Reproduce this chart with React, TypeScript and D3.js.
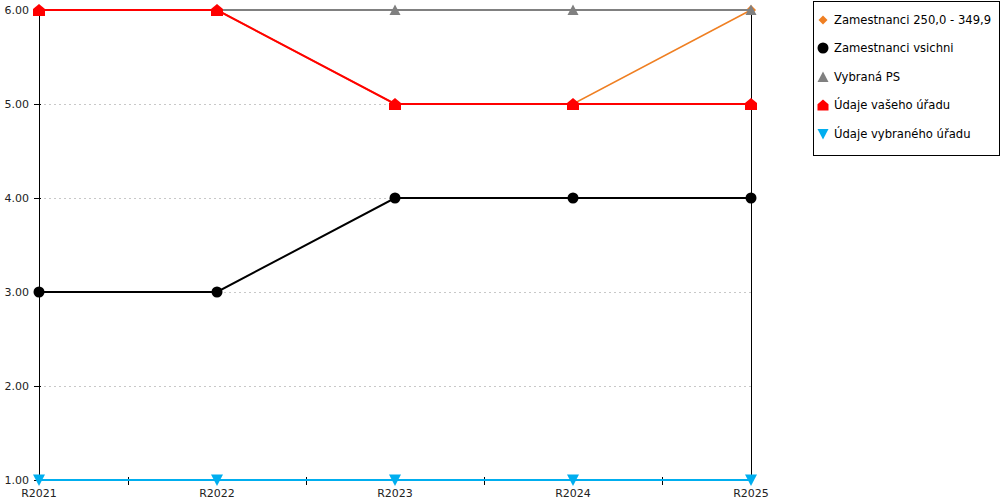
import React from 'react';
import * as d3 from 'd3';

const categories = ['R2021', 'R2022', 'R2023', 'R2024', 'R2025'];
const yTicks = [1, 2, 3, 4, 5, 6];

const zamestnanciRange = [6, 6, 5, 5, 6];
const zamestnanciAll = [3, 3, 4, 4, 4];
const vybranaPS = [6, 6, 6, 6, 6];
const vasUrad = [6, 6, 5, 5, 5];
const vybranyUrad = [1, 1, 1, 1, 1];

const seriesNames = [
  'Zamestnanci 250,0 - 349,9',
  'Zamestnanci vsichni',
  'Vybraná PS',
  'Údaje vašeho úřadu',
  'Údaje vybraného úřadu',
];

const FONT = '"DejaVu Sans", Verdana, sans-serif';

const markerPath = (kind: string, size: number): string => {
  const h = size / 2;
  switch (kind) {
    case 'diamond':
      return `M0,${-h}L${h},0L0,${h}L${-h},0Z`;
    case 'circle':
      return d3.symbol(d3.symbolCircle, Math.PI * h * h)() as string;
    case 'triangle':
      return `M0,${-h}L${h},${h * 0.9}L${-h},${h * 0.9}Z`;
    case 'house':
      return `M0,${-h}L${h},${-h * 0.15}L${h},${h}L${-h},${h}L${-h},${-h * 0.15}Z`;
    case 'down':
      return `M${-h},${-h * 0.9}L${h},${-h * 0.9}L0,${h}Z`;
    default:
      return '';
  }
};

const series = [
  { name: seriesNames[0], values: zamestnanciRange, color: '#ef7f22', width: 1.5, marker: 'diamond', size: 10 },
  { name: seriesNames[1], values: zamestnanciAll, color: '#000000', width: 2, marker: 'circle', size: 11 },
  { name: seriesNames[2], values: vybranaPS, color: '#808080', width: 2, marker: 'triangle', size: 11 },
  { name: seriesNames[3], values: vasUrad, color: '#ff0000', width: 2, marker: 'house', size: 12 },
  { name: seriesNames[4], values: vybranyUrad, color: '#00aeef', width: 2, marker: 'down', size: 12 },
];

export default function App() {
  const width = 1000;
  const height = 500;
  const left = 39;
  const right = 751;
  const top = 10;
  const bottom = 480;

  const x = d3.scalePoint<string>().domain(categories).range([left, right]);
  const y = d3.scaleLinear().domain([1, 6]).range([bottom, top]);
  const step = x.step();

  const line = d3.line<number>()
    .x((_, i) => x(categories[i]) as number)
    .y(d => y(d));

  const legendY = [20, 48, 77, 105, 134];

  return (
    <svg width={width} height={height} style={{ position: 'absolute', left: 0, top: 0, background: '#fff' }}>
      {/* gridlines */}
      {yTicks.filter(t => t > 1 && t < 6).map(t => (
        <line key={'g' + t} x1={left} x2={right} y1={Math.round(y(t)) + 0.5} y2={Math.round(y(t)) + 0.5}
          stroke="#c8c8c8" strokeDasharray="2,3" />
      ))}
      {/* axes */}
      <line x1={left + 0.5} x2={left + 0.5} y1={top} y2={bottom} stroke="#000" />
      <line x1={right + 0.5} x2={right + 0.5} y1={top} y2={bottom} stroke="#000" />
      <line x1={left} x2={right} y1={bottom + 0.5} y2={bottom + 0.5} stroke="#000" />
      {yTicks.map(t => (
        <g key={'y' + t}>
          <line x1={left - 5} x2={left + 2} y1={Math.round(y(t)) + 0.5} y2={Math.round(y(t)) + 0.5} stroke="#000" />
          <text x={left - 10} y={y(t)} dy="0.35em" textAnchor="end" fontFamily={FONT} fontSize={11} fill="#222">
            {d3.format('.2f')(t)}
          </text>
        </g>
      ))}
      {categories.slice(0, -1).map((c, i) => (
        <line key={'xt' + i} x1={Math.round((x(c) as number) + step / 2) + 0.5} x2={Math.round((x(c) as number) + step / 2) + 0.5}
          y1={bottom - 3} y2={bottom + 5} stroke="#000" />
      ))}
      {categories.map(c => (
        <text key={'x' + c} x={x(c)} y={bottom + 17} textAnchor="middle" fontFamily={FONT} fontSize={11} fill="#222">
          {c}
        </text>
      ))}
      {/* series */}
      {series.map(s => (
        <g key={s.name}>
          <path d={line(s.values) as string} fill="none" stroke={s.color} strokeWidth={s.width} />
          {s.values.map((v, i) => (
            <path key={i} d={markerPath(s.marker, s.size)}
              transform={`translate(${x(categories[i])},${y(v)})`} fill={s.color} />
          ))}
        </g>
      ))}
      {/* legend */}
      <rect x={813.5} y={1.5} width={186} height={154} fill="#fff" stroke="#000" />
      {series.map((s, i) => (
        <g key={'l' + s.name} transform={`translate(823,${legendY[i]})`}>
          <path d={markerPath(s.marker, s.marker === 'diamond' ? 9 : 11)} fill={s.color} />
          <text x={11} dy="0.35em" fontFamily={FONT} fontSize={11.6} fill="#000">{s.name}</text>
        </g>
      ))}
    </svg>
  );
}
